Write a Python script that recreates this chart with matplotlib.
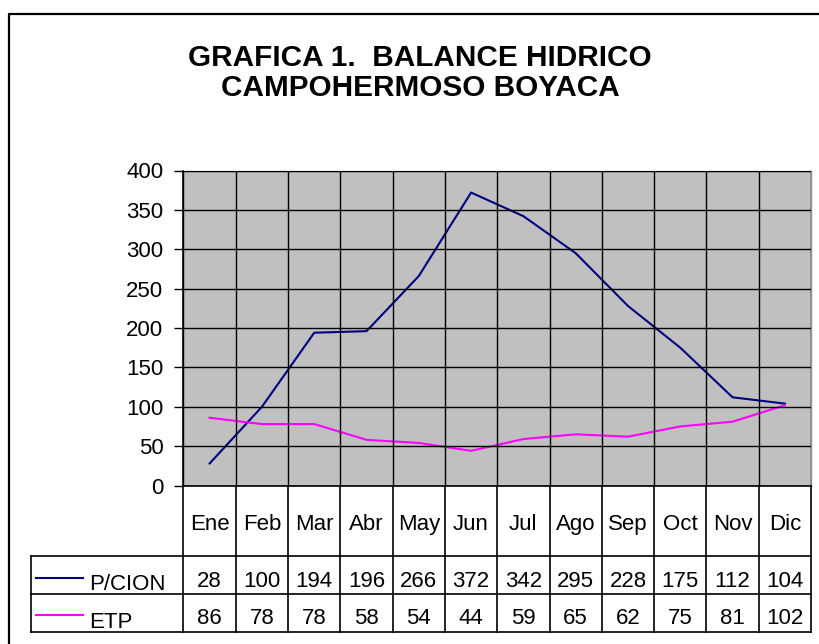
import matplotlib
matplotlib.use("Agg")
import matplotlib.pyplot as plt
from matplotlib.lines import Line2D
import numpy as np

months = ["Ene", "Feb", "Mar", "Abr", "May", "Jun", "Jul", "Ago", "Sep", "Oct", "Nov", "Dic"]
pcion = [28, 100, 194, 196, 266, 372, 342, 295, 228, 175, 112, 104]
etp = [86, 78, 78, 58, 54, 44, 59, 65, 62, 75, 81, 102]
series_names = ["P/CION", "ETP"]
series_colors = ["#000080", "#FF00FF"]
yticks = [0, 50, 100, 150, 200, 250, 300, 350, 400]
title = "GRAFICA 1.  BALANCE HIDRICO\nCAMPOHERMOSO BOYACA"

plt.rcParams['font.family'] = ['Liberation Sans', 'DejaVu Sans']

W, H = 820, 644
fig = plt.figure(figsize=(W / 100, H / 100), dpi=100)
fig.patch.set_facecolor("white")

def fx(x):
    return x / W

def fy(y):
    return 1 - y / H

def hline(x0, x1, y, lw=1.0, color="black"):
    fig.add_artist(Line2D([fx(x0), fx(x1)], [fy(y), fy(y)], transform=fig.transFigure,
                          color=color, lw=lw, solid_capstyle="projecting"))

def vline(x, y0, y1, lw=1.0, color="black"):
    fig.add_artist(Line2D([fx(x), fx(x)], [fy(y0), fy(y1)], transform=fig.transFigure,
                          color=color, lw=lw, solid_capstyle="projecting"))

# outer frame (extends beyond image right/bottom)
fig.add_artist(Line2D([fx(8.5), fx(8.5), fx(840)], [fy(700), fy(13.5), fy(13.5)],
                      transform=fig.transFigure, color="black", lw=1.6))

# plot area
L, R, T, B = 183.5, 811, 170.5, 485.5
ax = fig.add_axes([fx(L), fy(B), fx(R) - fx(L), fy(T) - fy(B)])
ax.set_facecolor("#C0C0C0")
n = len(months)
xs = np.arange(n) + 0.5
ax.plot(xs, pcion, color=series_colors[0], lw=1.5)
ax.plot(xs, etp, color=series_colors[1], lw=1.5)
ax.set_xlim(0, n)
ax.set_ylim(0, 400)
ax.set_yticks(yticks)
ax.set_yticklabels([str(v) for v in yticks], fontsize=16)
ax.set_xticks(np.arange(n + 1))
ax.tick_params(axis="x", length=0, labelbottom=False)
ax.tick_params(axis="y", length=6.5, width=1.0, pad=8, direction="out")
ax.grid(True, color="black", lw=1.0)
ax.set_axisbelow(False)
for s in ["top", "right"]:
    ax.spines[s].set_color("#909090")
    ax.spines[s].set_linewidth(1.0)
for s in ["left", "bottom"]:
    ax.spines[s].set_color("black")
    ax.spines[s].set_linewidth(1.2)

# title
lines = title.split("\n")
fig.text(fx(420), fy(66), lines[0], ha="center", va="baseline", fontsize=21.4, fontweight="bold")
fig.text(fx(420), fy(96), lines[1], ha="center", va="baseline", fontsize=21.4, fontweight="bold")

# data table
colw = (R - L) / n
row_top = B
row1 = 556
row2 = 594
row3 = 632
tleft = 31
for i in range(n + 1):
    x = L + i * colw
    vline(x, row_top, row3, lw=1.2)
vline(tleft, row1, row3, lw=1.2)
for y in (row1, row2, row3):
    hline(tleft, R, y, lw=1.2)

for i, m in enumerate(months):
    cx = L + (i + 0.5) * colw
    fig.text(fx(cx), fy(530), m, ha="center", va="baseline", fontsize=16)
    fig.text(fx(cx), fy(587), str(pcion[i]), ha="center", va="baseline", fontsize=16)
    fig.text(fx(cx), fy(624), str(etp[i]), ha="center", va="baseline", fontsize=16)

for k, (name, col, ky, ty) in enumerate(zip(series_names, series_colors, [578, 615], [590, 628])):
    fig.add_artist(Line2D([fx(36), fx(83)], [fy(ky), fy(ky)], transform=fig.transFigure,
                          color=col, lw=1.5))
    fig.text(fx(89), fy(ty), name, ha="left", va="baseline", fontsize=16)

fig.savefig("out.png", dpi=100, facecolor="white")
